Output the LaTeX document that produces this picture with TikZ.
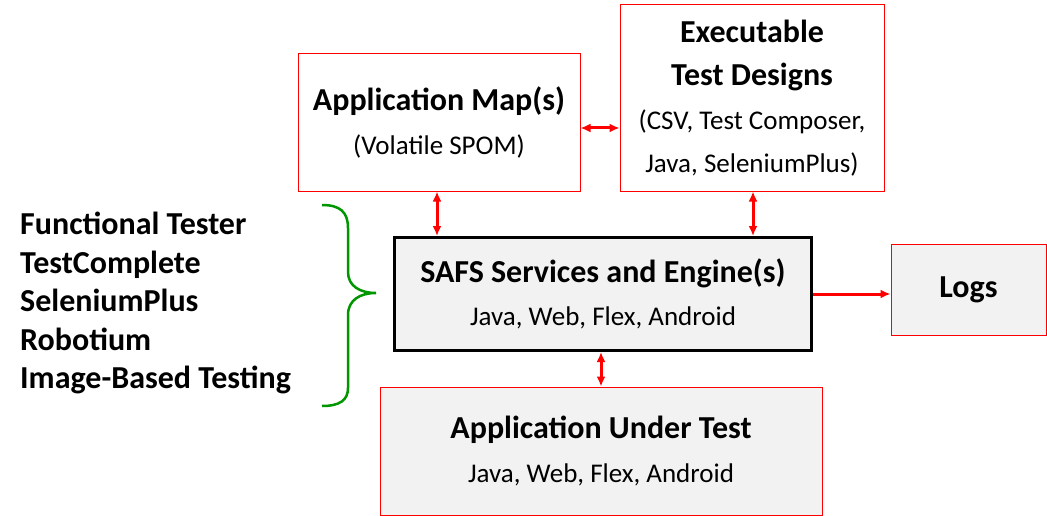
\documentclass[tikz,border=0pt]{standalone}
\usepackage{fontspec}
\setmainfont{Carlito}
\usetikzlibrary{arrows.meta}

\definecolor{boxred}{RGB}{255,0,0}
\definecolor{boxgray}{RGB}{242,242,242}
\definecolor{bracegreen}{RGB}{0,150,0}

\tikzset{
  redbox/.style={draw=boxred, line width=1pt, align=center, inner sep=0pt,
    font=\fontsize{27}{43.5}\selectfont},
  graybox/.style={redbox, fill=boxgray},
  enginebox/.style={draw=black, line width=3pt, fill=boxgray, align=center, inner sep=0pt,
    font=\fontsize{27}{43}\selectfont},
  link/.style={draw=boxred, line width=3pt, {Latex[length=10pt,width=9pt]}-{Latex[length=10pt,width=9pt]}},
  onelink/.style={draw=boxred, line width=3pt, -{Latex[length=10pt,width=9pt]}},
}
\newcommand{\boxtitle}[1]{{\bfseries\fontsize{32}{43}\selectfont #1}}

\begin{document}
\begin{tikzpicture}[x=1pt,y=-1pt]
\useasboundingbox (0,0) rectangle (1047,516);

\node[redbox, minimum width=282pt, minimum height=137pt] (amap) at (439,122.5)
  {\boxtitle{Application Map(s)}\\(Volatile SPOM)};

\node[redbox, minimum width=264pt, minimum height=186pt] (tests) at (752,98)
  {\boxtitle{Executable}\\\boxtitle{Test Designs}\\(CSV, Test Composer,\\Java, SeleniumPlus)};

\node[enginebox, minimum width=417pt, minimum height=113pt] (safs) at (603,294)
  {\boxtitle{SAFS Services and Engine(s)}\\Java, Web, Flex, Android};

\node[graybox, minimum width=155pt, minimum height=91pt] (logs) at (968.5,289.5)
  {\boxtitle{Logs}};

\node[graybox, minimum width=442pt, minimum height=128pt] (aut) at (601,451)
  {\boxtitle{Application Under Test}\\Java, Web, Flex, Android};

% left one
\node[anchor=west, align=left, inner sep=0pt, font=\bfseries\fontsize{32}{38.5}\selectfont] (tools) at (20,303)
  {Functional Tester\\TestComplete\\SeleniumPlus\\Robotium\\Image-Based Testing};

\draw[bracegreen, line width=2.5pt] (322,205) .. controls (340,205) and (348,212) .. (348,228)
  -- (348,272) .. controls (348,286) and (360,293) .. (376,293)
  .. controls (360,293) and (348,300) .. (348,315)
  -- (348,388) .. controls (348,400) and (340,406) .. (322,406);

% links
\draw[link] ([yshift=-5.5pt]amap.east) -- ([yshift=-5.5pt]amap.east -| tests.west);
\draw[link] ([xshift=-2pt]amap.south) -- ([xshift=-2pt]amap.south |- safs.north);
\draw[link] ([xshift=1pt]tests.south) -- ([xshift=1pt]tests.south |- safs.north);
\draw[link] (aut.north) -- (aut.north |- safs.south);
\draw[onelink] (safs.east) -- (safs.east -| logs.west);
%
\end{tikzpicture}
\end{document}
